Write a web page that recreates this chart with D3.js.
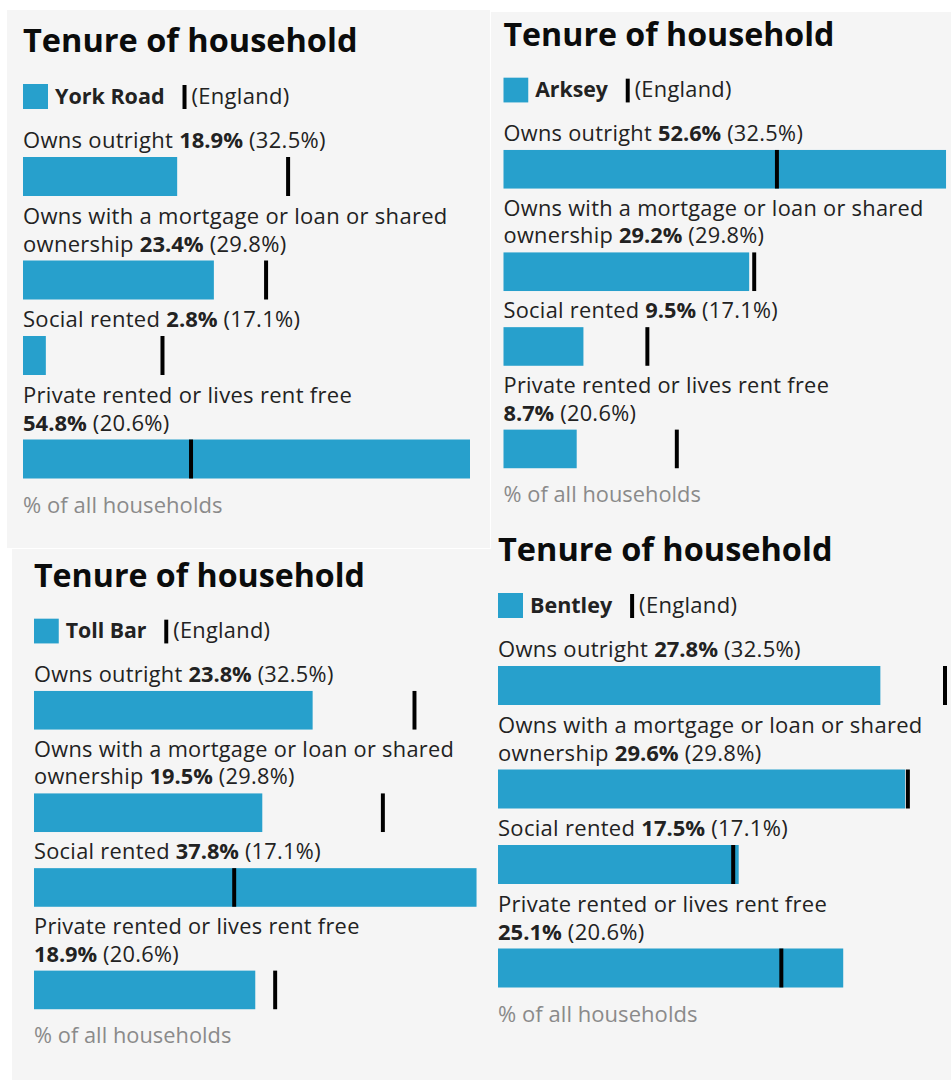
<!DOCTYPE html>
<html>
<head>
<meta charset="utf-8">
<script src="https://cdn.jsdelivr.net/npm/d3@7"></script>
<style>
  body { margin: 0; background: #fff; }
  svg { display: block; font-family: "Open Sans", sans-serif; }
</style>
</head>
<body>
<div id="chart"></div>
<script>
// Chart data
const title = "Tenure of household";
const comparisonLabel = "(England)";
const axisLabel = "% of all households";
const categories = [
  "Owns outright",
  "Owns with a mortgage or loan or shared ownership",
  "Social rented",
  "Private rented or lives rent free"
];
const areas = ["York Road", "Arksey", "Toll Bar", "Bentley"];
const yorkRoad = [18.9, 23.4, 2.8, 54.8];
const arksey = [52.6, 29.2, 9.5, 8.7];
const tollBar = [23.8, 19.5, 37.8, 18.9];
const bentley = [27.8, 29.6, 17.5, 25.1];
const england = [32.5, 29.8, 17.1, 20.6];
const areaValues = [yorkRoad, arksey, tollBar, bentley];

// Where each panel sits in the collage
const panels = [
  { x: 23, y: 52, k: 1, bg: [7, 10, 483, 538] },
  { x: 503.5, y: 46, k: 0.99, bg: [491, 12, 460, 518] },
  { x: 34, y: 587, k: 0.99, bg: [12, 549, 479, 531] },
  { x: 498, y: 561, k: 1, bg: [491, 530, 460, 550] }
];

const colour = "#27a0cc";
const barWidth = 447;
const wrapWidth = 452;
const fontSize = 22;
const spacing = 0.3;

const svg = d3.select("#chart")
  .append("svg")
  .attr("width", 951)
  .attr("height", 1080);

// Backgrounds first
svg.selectAll("rect.bg")
  .data(panels)
  .enter()
  .append("rect")
  .attr("class", "bg")
  .attr("x", d => d.bg[0])
  .attr("y", d => d.bg[1])
  .attr("width", d => d.bg[2])
  .attr("height", d => d.bg[3])
  .attr("fill", "#f5f5f5");

// Hidden text used to measure label widths for wrapping
const measurer = svg.append("text")
  .attr("font-size", fontSize)
  .attr("visibility", "hidden");

function addSeg(parent, s) {
  return parent.append("tspan")
    .attr("font-weight", s.bold ? 700 : 400)
    .attr("letter-spacing", s.bold ? 0 : spacing)
    .text(s.text);
}

function measure(segments) {
  measurer.selectAll("tspan").remove();
  segments.forEach(s => addSeg(measurer, s));
  return measurer.node().getComputedTextLength();
}

// Break label words onto lines, keeping the value and England value together
function wrapLabel(label, value, eng) {
  const words = label.split(" ").map(w => [{ text: w }]);
  words.push([{ text: value + "%", bold: true }, { text: " (" + eng + "%)" }]);
  const lines = [];
  let line = [];
  words.forEach(w => {
    const trial = line.length ? line.concat([{ text: " " }], w) : w.slice();
    if (line.length && measure(trial) > wrapWidth) {
      lines.push(line);
      line = w.slice();
    } else {
      line = trial;
    }
  });
  lines.push(line);
  return lines;
}

panels.forEach((p, pi) => {
  const values = areaValues[pi];
  const g = svg.append("g")
    .attr("transform", "translate(" + p.x + "," + p.y + ") scale(" + p.k + ")");

  const x = d3.scaleLinear()
    .domain([0, d3.max(values.concat(england))])
    .range([0, barWidth]);

  // Title
  g.append("text")
    .attr("x", 0)
    .attr("y", 0)
    .attr("font-size", 32.5)
    .attr("font-weight", 700)
    .attr("fill", "#0b0c0c")
    .text(title);

  // Legend
  const legend = g.append("g").attr("transform", "translate(0,32)");
  legend.append("rect")
    .attr("width", 25)
    .attr("height", 25)
    .attr("fill", colour);
  const areaText = legend.append("text")
    .attr("x", 32)
    .attr("y", 20)
    .attr("font-size", 21.5)
    .attr("font-weight", 700)
    .attr("fill", "#222")
    .text(areas[pi]);
  const textEnd = 32 + areaText.node().getComputedTextLength();
  legend.append("rect")
    .attr("x", textEnd + 18)
    .attr("y", 1)
    .attr("width", 4)
    .attr("height", 24)
    .attr("fill", "#000");
  legend.append("text")
    .attr("x", textEnd + 27)
    .attr("y", 20)
    .attr("font-size", fontSize)
    .attr("letter-spacing", spacing)
    .attr("fill", "#222")
    .text(comparisonLabel);

  // Rows
  let y = 96;
  categories.forEach((cat, i) => {
    const lines = wrapLabel(cat, values[i], england[i]);
    const label = g.append("text")
      .attr("font-size", fontSize)
      .attr("fill", "#222");
    lines.forEach((line, li) => {
      line.forEach((seg, si) => {
        const t = addSeg(label, seg);
        if (si === 0) t.attr("x", 0).attr("y", y + li * 28);
      });
    });
    const barTop = y + (lines.length - 1) * 28 + 9;

    g.append("rect")
      .attr("x", 0)
      .attr("y", barTop)
      .attr("width", x(values[i]))
      .attr("height", 39)
      .attr("fill", colour);

    g.append("rect")
      .attr("x", x(england[i]) - 2)
      .attr("y", barTop)
      .attr("width", 4)
      .attr("height", 39)
      .attr("fill", "#000");

    y = barTop + 39 + 27.5;
  });

  // Axis label
  g.append("text")
    .attr("x", 0)
    .attr("y", y + 6.5)
    .attr("font-size", fontSize)
    .attr("letter-spacing", 0.05)
    .attr("fill", "#8a8a8a")
    .text(axisLabel);
});

measurer.remove();
</script>
</body>
</html>
